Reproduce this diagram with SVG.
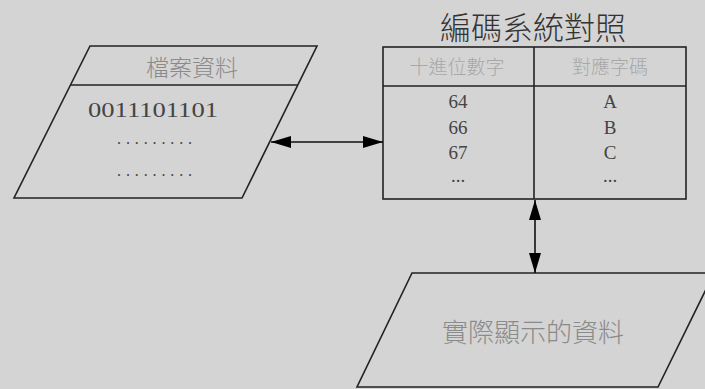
<svg xmlns="http://www.w3.org/2000/svg" width="705" height="389" viewBox="0 0 705 389">
<style>
.shape{fill:none;stroke:#222;stroke-width:1.6}
.cjk{font-family:"Liberation Serif","Noto Sans CJK TC",serif;font-weight:300}
.lbl{fill:#8a8a8a}
.hdr{fill:#a8a8a8;font-size:19px}
.num{fill:#444;font-size:19px;font-family:"Liberation Serif",serif}
.conn{stroke:#111;stroke-width:1.6;fill:none}
</style>
<defs>
<marker id="ah" viewBox="0 0 20 12" refX="20" refY="6" markerWidth="20" markerHeight="12" markerUnits="userSpaceOnUse" orient="auto-start-reverse">
<path d="M0,0 L20,6 L0,12 Z" fill="#000"/>
</marker>
</defs>
<rect width="705" height="389" fill="#d4d4d4"/>
<g id="file-data">
<polygon class="shape" points="90,46 317,46 242,198 14,198"/>
<line class="shape" x1="70.5" y1="85" x2="297" y2="85"/>
<text class="cjk lbl" x="192" y="76" font-size="23" text-anchor="middle">檔案資料</text>
<text x="88" y="117" font-size="22" fill="#444" font-family="Liberation Serif,serif" textLength="130" lengthAdjust="spacingAndGlyphs">0011101101</text>
<text x="117" y="144" font-size="16" fill="#444" font-family="Liberation Serif,serif" textLength="75" lengthAdjust="spacing">.........</text>
<text x="117" y="176" font-size="16" fill="#444" font-family="Liberation Serif,serif" textLength="75" lengthAdjust="spacing">.........</text>
</g>
<g id="code-table">
<text class="cjk" x="533" y="39" font-size="31" fill="#333" text-anchor="middle">編碼系統對照</text>
<rect class="shape" x="383" y="47" width="303" height="152"/>
<line class="shape" x1="383" y1="86" x2="686" y2="86"/>
<line class="shape" x1="534" y1="47" x2="534" y2="199"/>
<text class="cjk hdr" x="457" y="74" text-anchor="middle">十進位數字</text>
<text class="cjk hdr" x="610" y="74" text-anchor="middle">對應字碼</text>
<text class="num" x="458" y="108" text-anchor="middle">64</text>
<text class="num" x="458" y="134" text-anchor="middle">66</text>
<text class="num" x="458" y="159" text-anchor="middle">67</text>
<text class="num" x="458" y="182" text-anchor="middle">...</text>
<text class="num" x="610" y="108" text-anchor="middle">A</text>
<text class="num" x="610" y="134" text-anchor="middle">B</text>
<text class="num" x="610" y="159" text-anchor="middle">C</text>
<text class="num" x="610" y="182" text-anchor="middle">...</text>
</g>
<g id="display-data">
<polygon class="shape" points="412,273 714,273 658,387 357,387"/>
<text class="cjk lbl" x="533" y="342" font-size="26" text-anchor="middle">實際顯示的資料</text>
</g>
<g id="connectors">
<line class="conn" x1="271" y1="142" x2="383" y2="142" marker-start="url(#ah)" marker-end="url(#ah)"/>
<line class="conn" x1="535" y1="200" x2="535" y2="273" marker-start="url(#ah)" marker-end="url(#ah)"/>
</g>
</svg>
